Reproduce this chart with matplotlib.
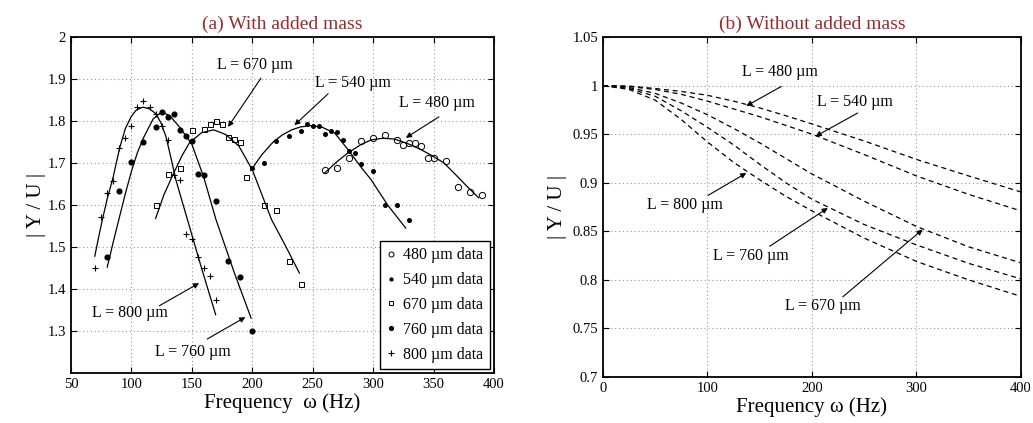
import numpy as np
import matplotlib.pyplot as plt

plt.rcParams["font.family"] = ["Liberation Serif", "DejaVu Serif"]
plt.rcParams["mathtext.fontset"] = "stix"

# ---- (a) with added mass : measured data ----
x480 = [260, 270, 280, 290, 300, 310, 320, 325, 330, 335, 340, 345, 350, 360, 370, 380, 390]
y480 = [1.684, 1.687, 1.712, 1.753, 1.759, 1.767, 1.755, 1.742, 1.748, 1.748, 1.740,
        1.712, 1.712, 1.704, 1.644, 1.630, 1.625]
x540 = [200, 210, 220, 230, 240, 245, 250, 255, 260, 265, 270, 275, 280, 285, 290,
        300, 310, 320, 330]
y540 = [1.687, 1.700, 1.753, 1.765, 1.776, 1.793, 1.787, 1.787, 1.770, 1.776, 1.774,
        1.755, 1.729, 1.724, 1.698, 1.682, 1.599, 1.599, 1.564]
x670 = [120, 130, 140, 150, 160, 165, 170, 175, 180, 185, 190, 195, 210, 220, 230, 240]
y670 = [1.601, 1.674, 1.688, 1.778, 1.782, 1.793, 1.801, 1.794, 1.761, 1.756, 1.749,
        1.667, 1.601, 1.587, 1.466, 1.413]
x760 = [80, 90, 100, 110, 120, 125, 130, 135, 140, 145, 150, 155, 160, 170, 180, 190, 200]
y760 = [1.476, 1.634, 1.703, 1.749, 1.786, 1.822, 1.809, 1.817, 1.779, 1.765, 1.753,
        1.675, 1.672, 1.610, 1.467, 1.429, 1.299]
x800 = [70, 75, 80, 85, 90, 95, 100, 105, 110, 115, 120, 125, 130, 135, 140, 145, 150,
        155, 160, 165, 170]
y800 = [1.450, 1.572, 1.629, 1.657, 1.736, 1.759, 1.787, 1.833, 1.848, 1.833, 1.817,
        1.787, 1.754, 1.671, 1.660, 1.531, 1.519, 1.476, 1.451, 1.430, 1.374]

# ---- (a) fitted curves ----
fx480 = [259.5, 270, 279.2, 290, 298.4, 308, 317.6, 328, 339.5, 349, 358.7, 368, 377.8, 387.4]
fy480 = [1.675, 1.703, 1.724, 1.744, 1.755, 1.759, 1.757, 1.747, 1.732, 1.717, 1.700,
         1.673, 1.644, 1.617]
fx540 = [198.7, 208, 217.6, 225, 232.6, 240, 249.1, 258, 268.3, 279.2, 290, 298.4, 312, 327]
fy540 = [1.682, 1.720, 1.751, 1.767, 1.779, 1.786, 1.789, 1.785, 1.771, 1.732, 1.690,
         1.660, 1.600, 1.545]
fx670 = [120, 127, 135, 142, 148, 158, 168, 178, 189, 200, 216, 228, 239]
fy670 = [1.568, 1.625, 1.676, 1.718, 1.748, 1.772, 1.779, 1.768, 1.740, 1.684, 1.565,
         1.500, 1.438]
fx760 = [80, 85, 90, 95, 100, 105, 110, 118, 125, 132, 140, 150, 160, 170, 185, 199]
fy760 = [1.452, 1.512, 1.570, 1.627, 1.680, 1.725, 1.760, 1.805, 1.822, 1.812, 1.785,
         1.745, 1.665, 1.565, 1.440, 1.331]
fx800 = [69.7, 73, 76, 80, 84.8, 90.3, 95, 99.9, 104, 109.4, 115, 120.4, 124.5, 128.6,
         132.5, 136.8, 146.4, 158, 169.7]
fy800 = [1.478, 1.525, 1.565, 1.615, 1.665, 1.736, 1.782, 1.811, 1.826, 1.833, 1.829,
         1.817, 1.795, 1.763, 1.715, 1.660, 1.565, 1.450, 1.339]

# ---- (b) without added mass ----
xb = [0, 25, 50, 75, 100, 125, 150, 175, 200, 250, 300, 350, 400]
b480 = [1, 0.9995, 0.997, 0.994, 0.990, 0.984, 0.977, 0.969, 0.9605, 0.943, 0.924, 0.907, 0.8905]
b540 = [1, 0.999, 0.996, 0.991, 0.984, 0.976, 0.968, 0.959, 0.950, 0.929, 0.907, 0.888, 0.871]
b670 = [1, 0.998, 0.992, 0.982, 0.970, 0.956, 0.941, 0.925, 0.909, 0.881, 0.855, 0.834, 0.8175]
b760 = [1, 0.997, 0.989, 0.974, 0.957, 0.939, 0.919, 0.900, 0.883, 0.857, 0.836, 0.817, 0.801]
b800 = [1, 0.996, 0.985, 0.965, 0.942, 0.921, 0.903, 0.886, 0.871, 0.843, 0.819, 0.800, 0.783]

title_color = "#9b2a2a"
um = "\u00b5m"

fig = plt.figure(figsize=(10.33, 4.23), dpi=100)
ax1 = fig.add_axes([0.0687, 0.1182, 0.4095, 0.7943])
ax2 = fig.add_axes([0.5837, 0.1087, 0.4046, 0.8038])


def style_axes(ax):
    ax.grid(True, linestyle=(0, (1, 2.5)), color="#999999", linewidth=0.8)
    ax.tick_params(direction="in", top=True, right=True, labelsize=10.5, length=4)
    for s in ax.spines.values():
        s.set_linewidth(1.3)


def arrow(ax, start, tip):
    ax.annotate("", xy=tip, xytext=start,
                arrowprops=dict(arrowstyle="-|>", color="k", lw=0.8,
                                mutation_scale=8, shrinkA=0, shrinkB=0))


# (a)
ax1.plot(fx480, fy480, color="k", lw=0.9)
ax1.plot(fx540, fy540, color="k", lw=0.9)
ax1.plot(fx670, fy670, color="k", lw=0.9)
ax1.plot(fx760, fy760, color="k", lw=0.9)
ax1.plot(fx800, fy800, color="k", lw=0.9)

h1, = ax1.plot(x480, y480, "o", mfc="none", mec="k", ms=4.5, mew=0.7, label="480 " + um + " data")
h2, = ax1.plot(x540, y540, "o", color="k", ms=2.6, label="540 " + um + " data")
h3, = ax1.plot(x670, y670, "s", mfc="none", mec="k", ms=3.6, mew=0.7, label="670 " + um + " data")
h4, = ax1.plot(x760, y760, "o", color="k", ms=3.4, label="760 " + um + " data")
h5, = ax1.plot(x800, y800, "+", color="k", ms=5, mew=0.8, label="800 " + um + " data")

ax1.set_xlim(50, 400)
ax1.set_ylim(1.2, 2.0)
ax1.set_xticks(range(50, 401, 50))
ax1.set_yticks([1.3, 1.4, 1.5, 1.6, 1.7, 1.8, 1.9, 2.0])
ax1.set_yticklabels(["1.3", "1.4", "1.5", "1.6", "1.7", "1.8", "1.9", "2"])
style_axes(ax1)
ax1.set_xlabel("Frequency  \u03c9 (Hz)", fontsize=15, labelpad=2)
ax1.set_ylabel("| Y / U |", fontsize=15)
ax1.yaxis.set_label_coords(-0.058, 0.5)
ax1.set_title("(a) With added mass", color=title_color, fontsize=14, pad=6)

ax1.text(202.5, 1.934, "L = 670 " + um, fontsize=11.5, ha="center", va="center")
arrow(ax1, (207.2, 1.902), (180, 1.786))
ax1.text(283.3, 1.891, "L = 540 " + um, fontsize=11.5, ha="center", va="center")
arrow(ax1, (262.8, 1.865), (234.9, 1.790))
ax1.text(353.2, 1.844, "L = 480 " + um, fontsize=11.5, ha="center", va="center")
arrow(ax1, (354.5, 1.810), (327.1, 1.760))
ax1.text(98.5, 1.343, "L = 800 " + um, fontsize=11.5, ha="center", va="center")
arrow(ax1, (123.1, 1.360), (156, 1.414))
ax1.text(150.5, 1.251, "L = 760 " + um, fontsize=11.5, ha="center", va="center")
arrow(ax1, (162.8, 1.281), (194.3, 1.333))

leg = ax1.legend(handles=[h1, h2, h3, h4, h5], loc="lower right", fontsize=11.5,
                 frameon=True, fancybox=False, edgecolor="k", framealpha=1,
                 handlelength=0.6, handletextpad=0.5, borderpad=0.4,
                 labelspacing=0.55, borderaxespad=0.25, markerscale=0.8)
leg.get_frame().set_linewidth(1.0)

# (b)
dash = (0, (4, 3))
for yy in (b480, b540, b670, b760, b800):
    ax2.plot(xb, yy, color="k", lw=0.9, linestyle=dash)

ax2.set_xlim(0, 400)
ax2.set_ylim(0.7, 1.05)
ax2.set_xticks([0, 100, 200, 300, 400])
ax2.set_yticks([0.7, 0.75, 0.8, 0.85, 0.9, 0.95, 1.0, 1.05])
ax2.set_yticklabels(["0.7", "0.75", "0.8", "0.85", "0.9", "0.95", "1", "1.05"])
style_axes(ax2)
ax2.set_xlabel("Frequency \u03c9 (Hz)", fontsize=15, labelpad=2)
ax2.set_ylabel("| Y / U |", fontsize=15)
ax2.yaxis.set_label_coords(-0.085, 0.5)
ax2.set_title("(b) Without added mass", color=title_color, fontsize=14, pad=6)

ax2.text(169, 1.0143, "L = 480 " + um, fontsize=11.5, ha="center", va="center")
arrow(ax2, (170.7, 0.9991), (137.2, 0.979))
ax2.text(240.7, 0.9833, "L = 540 " + um, fontsize=11.5, ha="center", va="center")
arrow(ax2, (243.8, 0.9718), (203.4, 0.9477))
ax2.text(78.3, 0.8775, "L = 800 " + um, fontsize=11.5, ha="center", va="center")
arrow(ax2, (100.6, 0.887), (137.2, 0.910))
ax2.text(142, 0.825, "L = 760 " + um, fontsize=11.5, ha="center", va="center")
arrow(ax2, (159.5, 0.8346), (215.2, 0.874))
ax2.text(210.4, 0.7736, "L = 670 " + um, fontsize=11.5, ha="center", va="center")
arrow(ax2, (229.5, 0.7825), (305.9, 0.8518))

fig.savefig("out.png", dpi=100)
